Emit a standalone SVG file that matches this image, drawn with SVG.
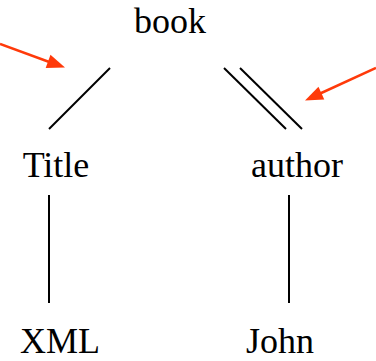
<svg xmlns="http://www.w3.org/2000/svg" width="376" height="361" viewBox="0 0 376 361">
  <style>
    text { font-family: "Liberation Serif", "Times New Roman", serif; font-size: 36px; fill: #000; text-anchor: middle; }
    .edge { stroke: #000; stroke-width: 2; fill: none; }
    .pointer { stroke: #ff3a0a; stroke-width: 2.5; fill: none; }
    .tip { fill: #ff3a0a; }
  </style>

  <g id="node-book"><text x="170" y="33">book</text></g>
  <g id="node-title"><text x="56" y="177">Title</text></g>
  <g id="node-author"><text x="297" y="177">author</text></g>
  <g id="node-xml"><text x="60" y="353">XML</text></g>
  <g id="node-john"><text x="280" y="353">John</text></g>

  <g id="connectors">
    <line class="edge" x1="110" y1="68" x2="49" y2="129"/>
    <line class="edge" x1="224" y1="68" x2="286" y2="129"/>
    <line class="edge" x1="240" y1="68" x2="302" y2="129"/>
    <line class="edge" x1="49" y1="195" x2="49" y2="303"/>
    <line class="edge" x1="289" y1="195" x2="289" y2="303"/>
    <!-- pointer into the book/Title edge -->
    <line class="pointer" x1="0" y1="44" x2="52" y2="63"/>
    <path class="tip" d="M0,0 L-18,-7 L-18,7 Z" transform="translate(65,67.5) rotate(20)"/>
    <!-- pointer into the book/author edge -->
    <line class="pointer" x1="376" y1="68" x2="318" y2="94.5"/>
    <path class="tip" d="M0,0 L-18,-7 L-18,7 Z" transform="translate(305,100.5) rotate(155.5)"/>
  </g>
</svg>
